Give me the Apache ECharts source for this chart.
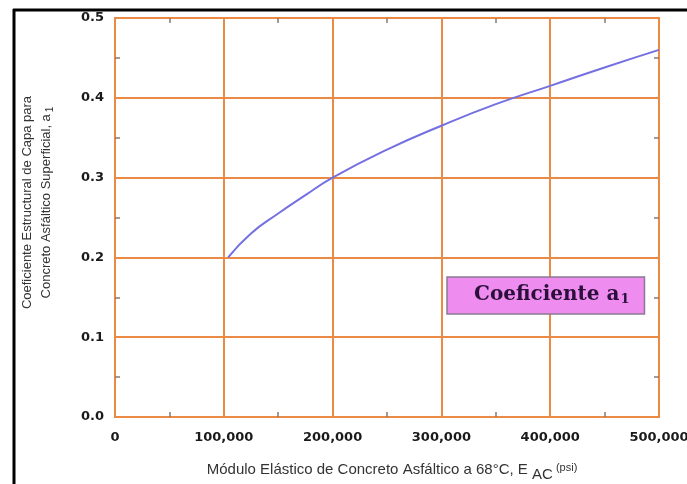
<!DOCTYPE html>
<html>
<head>
<meta charset="utf-8">
<script src="https://cdn.jsdelivr.net/npm/echarts@6/dist/echarts.min.js"></script>
<style>
html,body{margin:0;padding:0;background:#fff;}
#c{width:687px;height:484px;}
</style>
</head>
<body>
<div id="c"></div>
<script>
const modulus = [104000, 125000, 150000, 175000, 200000, 250000, 300000, 350000, 400000, 450000, 500000];
const a1 = [0.200, 0.230, 0.255, 0.278, 0.300, 0.335, 0.365, 0.392, 0.415, 0.438, 0.460];
const xTickLabels = ['0', '100,000', '200,000', '300,000', '400,000', '500,000'];
const yTickLabels = ['0.0', '0.1', '0.2', '0.3', '0.4', '0.5'];

const ORANGE = '#ea8a45';
const TICK = '#8a7a70';
const FONT = 'Liberation Sans, Arial, sans-serif';
const BOLDFONT = 'DejaVu Sans, Liberation Sans, sans-serif';
const SERIF = 'DejaVu Serif, Liberation Serif, serif';

const chart = echarts.init(document.getElementById('c'), null, {renderer: 'canvas'});

const minorTickStyle = {show: true, splitNumber: 2, length: 5, lineStyle: {color: TICK, width: 1.5}};
const minorAxisCommon = {
  axisLine: {show: false, onZero: false},
  axisTick: {show: true, inside: true, length: 0},
  axisLabel: {show: false},
  splitLine: {show: false},
  minorTick: minorTickStyle
};

chart.setOption({
  animation: false,
  backgroundColor: '#fff',
  grid: {left: 115, right: 28, top: 18, bottom: 67, containLabel: false, outerBoundsMode: 'none',
         show: true, borderColor: ORANGE, borderWidth: 2, backgroundColor: '#fff'},
  legend: {
    show: true,
    left: 447, top: 277,
    icon: 'none',
    itemWidth: 0, itemHeight: 0, itemGap: 0,
    padding: [8, 15, 8, 22],
    backgroundColor: '#ee8cf0',
    borderColor: '#8a7a90',
    borderWidth: 1.5,
    selectedMode: false,
    formatter: function () { return '{a|Coeficiente a}{s|1}'; },
    textStyle: {
      rich: {
        a: {fontFamily: SERIF, fontWeight: 'bold', fontSize: 20, color: '#2a0f3a'},
        s: {fontFamily: SERIF, fontWeight: 'bold', fontSize: 13, color: '#2a0f3a', verticalAlign: 'bottom', padding: [9, 0, 0, 1]}
      }
    }
  },
  xAxis: [{
    type: 'value', min: 0, max: 500000, interval: 100000,
    position: 'bottom',
    axisLine: {show: true, onZero: false, lineStyle: {color: ORANGE, width: 2}},
    axisTick: {show: true, inside: true, length: 0},
    minorTick: minorTickStyle,
    splitLine: {show: true, lineStyle: {color: ORANGE, width: 2}},
    axisLabel: {
      margin: 14, color: '#1a1a1a', fontWeight: 'bold', fontSize: 13, fontFamily: BOLDFONT,
      formatter: function (v) { return xTickLabels[Math.round(v / 100000)]; }
    },
    name: '{n|Módulo Elástico de Concreto Asfáltico a 68°C, E }{s|AC}{p| (psi)}',
    nameLocation: 'middle',
    nameGap: 41,
    nameTextStyle: {
      padding: [0, 0, 0, 10],
      rich: {
        n: {fontFamily: FONT, fontSize: 15, color: '#333'},
        s: {fontFamily: FONT, fontSize: 15, color: '#333', padding: [9, 0, 0, 0]},
        p: {fontFamily: FONT, fontSize: 11, color: '#333', padding: [0, 0, 5, 0]}
      }
    }
  }, Object.assign({type: 'value', min: 0, max: 500000, interval: 100000, position: 'top'}, minorAxisCommon)],
  yAxis: [{
    type: 'value', min: 0, max: 0.5, interval: 0.1,
    position: 'left',
    axisLine: {show: true, onZero: false, lineStyle: {color: ORANGE, width: 2}},
    axisTick: {show: true, inside: true, length: 0},
    minorTick: minorTickStyle,
    splitLine: {show: true, lineStyle: {color: ORANGE, width: 2}},
    axisLabel: {
      margin: 11, color: '#1a1a1a', fontWeight: 'bold', fontSize: 13, fontFamily: BOLDFONT,
      formatter: function (v) { return yTickLabels[Math.round(v * 10)]; }
    },
    name: '{n|Coeficiente Estructural de Capa para}\n{n|Concreto Asfáltico Superficial, a}{s|1}',
    nameLocation: 'middle',
    nameGap: 59,
    nameTextStyle: {
      lineHeight: 19,
      padding: [0, 0, 0, 30],
      rich: {
        n: {fontFamily: FONT, fontSize: 13, color: '#333', lineHeight: 19},
        s: {fontFamily: FONT, fontSize: 10, color: '#333', lineHeight: 19, padding: [7, 0, 0, 2]}
      }
    }
  }, Object.assign({type: 'value', min: 0, max: 0.5, interval: 0.1, position: 'right'}, minorAxisCommon)],
  series: [{
    name: 'Coeficiente a1',
    type: 'line',
    smooth: true,
    symbol: 'none',
    lineStyle: {color: '#7470e2', width: 2},
    itemStyle: {color: '#7470e2'},
    data: modulus.map(function (x, i) { return [x, a1[i]]; })
  }],
  graphic: [
    {type: 'line', shape: {x1: 13, y1: 10, x2: 687, y2: 10}, style: {stroke: '#000', lineWidth: 3}},
    {type: 'line', shape: {x1: 14, y1: 9, x2: 14, y2: 484}, style: {stroke: '#000', lineWidth: 3}}
  ]
});
</script>
</body>
</html>
